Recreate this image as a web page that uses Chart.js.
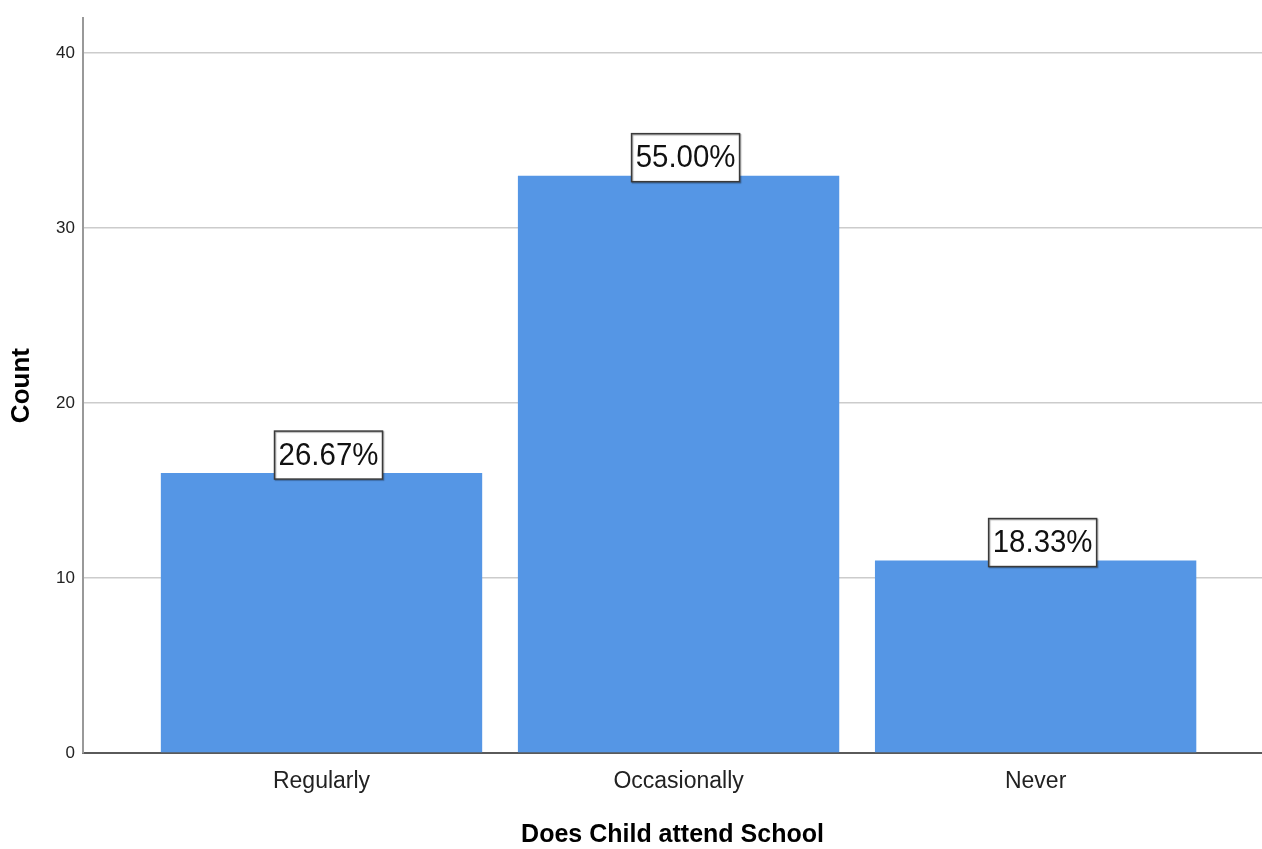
<!DOCTYPE html>
<html>
<head>
<meta charset="utf-8">
<script src="https://cdn.jsdelivr.net/npm/chart.js@4/dist/chart.umd.min.js"></script>
<style>
    html, body { margin: 0; padding: 0; background: #fff; }
    #wrap { width: 1262px; height: 849px; }
</style>
</head>
<body>
<div id="wrap"><canvas id="attend-chart"></canvas></div>
<script>
var categories = ['Regularly', 'Occasionally', 'Never'];
var counts = [16, 33, 11];
var yTicks = [0, 10, 20, 30, 40];

var total = counts.reduce(function (a, b) { return a + b; }, 0);
var percentLabels = counts.map(function (c) { return (c / total * 100).toFixed(2) + '%'; });

// boxed percentage above each bar
var boxLabels = {
    id: 'boxLabels',
    afterDatasetsDraw: function (chart) {
        var ctx = chart.ctx;
        var meta = chart.getDatasetMeta(0);
        meta.data.forEach(function (bar, i) {
            var cx = bar.x + 7;
            var bottom = bar.y + 6;
            var w = 108, h = 48;
            ctx.save();
            ctx.fillStyle = '#ffffff';
            ctx.fillRect(cx - w / 2, bottom - h, w, h);
            ctx.shadowColor = 'rgba(0,0,0,0.35)';
            ctx.shadowOffsetX = 1;
            ctx.shadowOffsetY = 1;
            ctx.shadowBlur = 1;
            ctx.strokeStyle = '#3a3a3a';
            ctx.lineWidth = 1.5;
            ctx.strokeRect(cx - w / 2, bottom - h, w, h);
            ctx.restore();

            ctx.save();
            ctx.translate(cx, bottom - h / 2 + 1);
            ctx.scale(0.92, 1);
            ctx.font = '32px Arial, "Liberation Sans", sans-serif';
            ctx.fillStyle = '#111';
            ctx.textAlign = 'center';
            ctx.textBaseline = 'middle';
            ctx.fillText(percentLabels[i], 0, 0);
            ctx.restore();
        });
    }
};

var chart = new Chart(
    document.getElementById('attend-chart'),
    {
        type: 'bar',
        data: {
            datasets: [
                {
                    label: 'Count',
                    data: categories.map(function (c, i) { return { x: i + 1, y: counts[i] }; }),
                    backgroundColor: '#5596e5',
                    borderWidth: 0,
                    barPercentage: 0.9,
                    categoryPercentage: 1.0
                }]
        },
        plugins: [boxLabels],
        options: {
            responsive: true,
            maintainAspectRatio: false,
            animation: false,
            layout: {
                padding: { top: 17, right: 0, left: 0, bottom: 0 }
            },
            plugins: {
                legend: { display: false },
                tooltip: { enabled: false }
            },
            scales: {
                x: {
                    type: 'linear',
                    offset: false,
                    min: 0.332,
                    max: 3.634,
                    afterBuildTicks: function (scale) {
                        scale.ticks = categories.map(function (c, i) { return { value: i + 1 }; });
                    },
                    afterFit: function (scale) { scale.height = 96; },
                    grid: { display: false, drawTicks: false, offset: false },
                    border: { display: true, color: '#5a5a5a', width: 2 },
                    ticks: {
                        autoSkip: false,
                        maxRotation: 0,
                        padding: 15,
                        color: '#222',
                        font: { family: 'Arial, "Liberation Sans", sans-serif', size: 23 },
                        callback: function (value) { return categories[value - 1]; }
                    },
                    title: {
                        display: true,
                        text: 'Does Child attend School',
                        color: '#000',
                        padding: { top: 0, bottom: 1 },
                        font: { family: 'Arial, "Liberation Sans", sans-serif', size: 25, weight: 'bold', lineHeight: 1 }
                    }
                },
                y: {
                    min: 0,
                    max: 42,
                    afterBuildTicks: function (scale) {
                        scale.ticks = yTicks.map(function (v) { return { value: v }; });
                    },
                    afterFit: function (scale) { scale.width = 83; },
                    grid: { color: '#cccccc', lineWidth: 1.5, drawTicks: false },
                    border: { display: true, color: '#999999', width: 2 },
                    ticks: {
                        padding: 8,
                        color: '#222',
                        font: { family: 'Arial, "Liberation Sans", sans-serif', size: 17 }
                    },
                    title: {
                        display: true,
                        text: 'Count',
                        color: '#000',
                        padding: { top: 9, bottom: 0 },
                        font: { family: 'Arial, "Liberation Sans", sans-serif', size: 26, weight: 'bold', lineHeight: 1 }
                    }
                }
            }
        }
    }
);
</script>
</body>
</html>
